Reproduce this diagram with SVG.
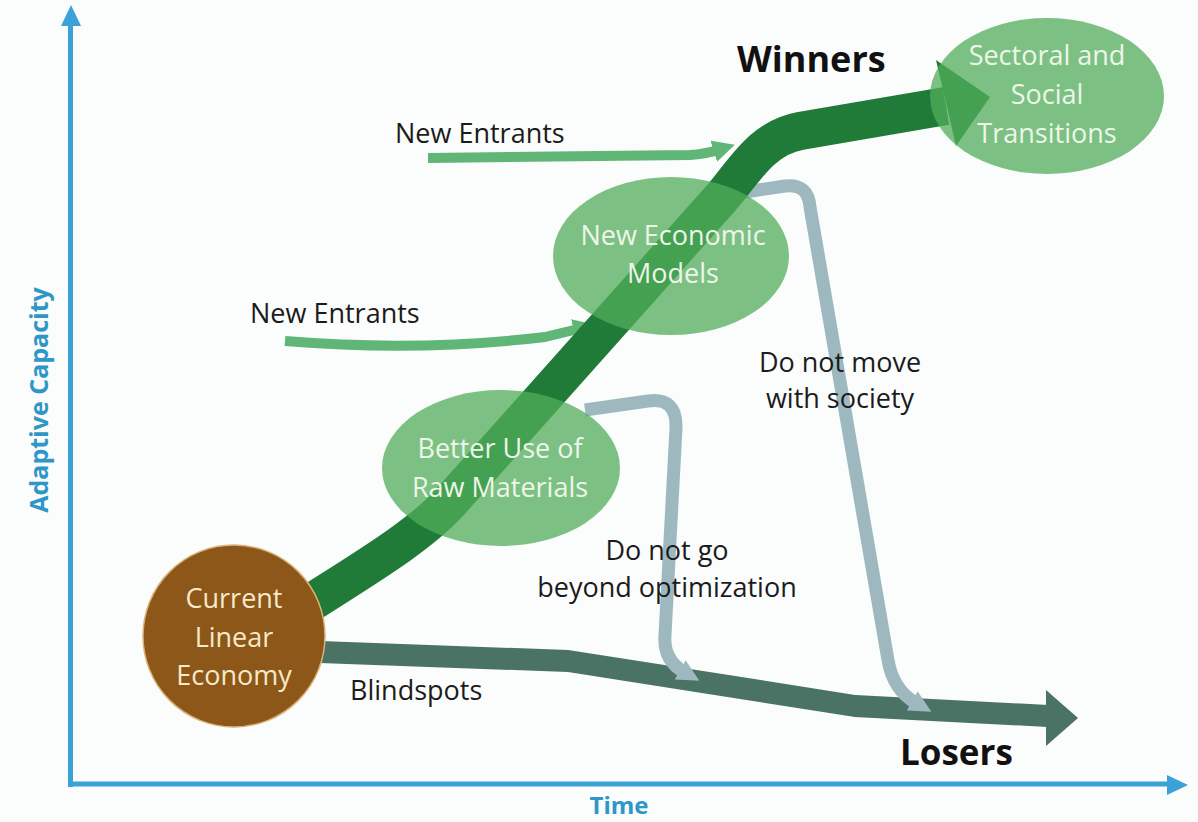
<svg xmlns="http://www.w3.org/2000/svg" width="1198" height="822" viewBox="0 0 1198 822">
<style>
.lbl{font-family:"Open Sans","Liberation Sans",sans-serif;font-size:27px;fill:#1b1b1b}
.big{font-family:"Open Sans","Liberation Sans",sans-serif;font-weight:bold;fill:#111}
.ax{font-family:"Open Sans","Liberation Sans",sans-serif;font-weight:bold;fill:#2e97c8}
.ell{fill:#51ad5b;fill-opacity:0.75}
.etxt{font-family:"Open Sans","Liberation Sans",sans-serif;font-size:27px;fill:#eef6ea;text-anchor:middle}
.ctxt{font-family:"Open Sans","Liberation Sans",sans-serif;font-size:27px;fill:#f7e9c9;text-anchor:middle}
.gray{fill:none;stroke:#9db9bf;stroke-width:13;stroke-linejoin:round}
.entr{fill:none;stroke:#5fb676;stroke-width:10;stroke-linejoin:round}
</style>
<defs>
<marker id="mGray" markerUnits="userSpaceOnUse" markerWidth="22" markerHeight="22" viewBox="0 0 20 20" refX="4" refY="10" orient="auto"><path d="M0,0 L20,10 L0,20 z" fill="#9db9bf"/></marker>
<marker id="mEntr" markerUnits="userSpaceOnUse" markerWidth="22" markerHeight="22" viewBox="0 0 20 20" refX="4" refY="10" orient="auto"><path d="M0,0 L20,10 L0,20 z" fill="#5fb676"/></marker>
</defs>
<rect width="1198" height="822" fill="#fbfcfc"/>
<g id="axes">
<line x1="70.5" y1="787" x2="70.5" y2="22" stroke="#3aa2d6" stroke-width="5"/>
<polygon points="71,5 61,26 81,26" fill="#3aa2d6"/>
<line x1="68" y1="784" x2="1170" y2="784" stroke="#3aa2d6" stroke-width="5"/>
<polygon points="1188,785 1167,775 1167,795" fill="#3aa2d6"/>
<text class="ax" font-size="25" transform="translate(48,400) rotate(-90)" text-anchor="middle">Adaptive Capacity</text>
<text class="ax" font-size="24" x="619" y="814" text-anchor="middle">Time</text>
</g>
<g id="connectors">
<path id="blindspots" d="M 320 652 L 568 661 L 855 706 L 1048 716" fill="none" stroke="#4a7366" stroke-width="22" stroke-linejoin="round"/>
<polygon points="1046,690 1046,746 1078,718" fill="#4a7366"/>
<path id="entrants-top" class="entr" d="M 428 158 L 690 155 Q 705 154 718 150" marker-end="url(#mEntr)"/>
<path id="entrants-low" class="entr" d="M 285 341 Q 420 352 545 337 L 578 329" marker-end="url(#mEntr)"/>
<path id="optim" class="gray" d="M 585 410 L 648 401 Q 677 397 676 428 L 665 635 Q 663 660 684 672" marker-end="url(#mGray)"/>
<path id="society" class="gray" d="M 745 192 L 785 186 Q 808 183 810 207 L 888 660 Q 893 690 916 703" marker-end="url(#mGray)"/>
<path id="main" d="M 312 602 C 370 565 420 535 450 502 L 722 197 C 745 170 762 138 800 131 L 946 106" fill="none" stroke="#1f7b37" stroke-width="38" stroke-linejoin="round"/>
<polygon points="936,60 956,146 990,97" fill="#1f7b37"/>
</g>
<g id="node-better"><ellipse class="ell" cx="501" cy="468" rx="119" ry="78"/>
<text class="etxt" x="500" y="458">Better Use of</text><text class="etxt" x="500" y="497">Raw Materials</text></g>
<g id="node-neweco"><ellipse class="ell" cx="671" cy="256" rx="118" ry="79"/>
<text class="etxt" x="673" y="245">New Economic</text><text class="etxt" x="673" y="283">Models</text></g>
<g id="node-sectoral"><ellipse class="ell" cx="1047" cy="96" rx="117" ry="78"/>
<text class="etxt" x="1047" y="65">Sectoral and</text><text class="etxt" x="1047" y="104">Social</text><text class="etxt" x="1047" y="143">Transitions</text></g>
<g id="node-current"><circle cx="234" cy="636" r="91" fill="#8c5718" stroke="#d8b27a" stroke-width="1.5"/>
<text class="ctxt" x="234" y="608">Current</text><text class="ctxt" x="234" y="647">Linear</text><text class="ctxt" x="234" y="685">Economy</text></g>
<g id="labels">
<text class="big" font-size="36" x="737" y="72">Winners</text>
<text class="big" font-size="35" x="900" y="765">Losers</text>
<text class="lbl" x="395" y="143">New Entrants</text>
<text class="lbl" x="250" y="323">New Entrants</text>
<text class="lbl" x="840" y="372" text-anchor="middle">Do not move</text>
<text class="lbl" x="840" y="408" text-anchor="middle">with society</text>
<text class="lbl" x="667" y="560" text-anchor="middle">Do not go</text>
<text class="lbl" x="667" y="597" text-anchor="middle">beyond optimization</text>
<text class="lbl" x="350" y="700">Blindspots</text>
</g>
</svg>
